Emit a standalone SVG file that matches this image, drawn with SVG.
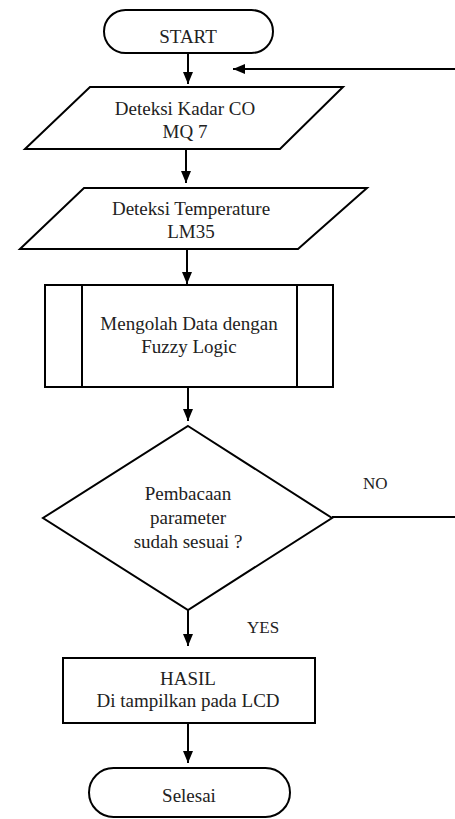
<svg xmlns="http://www.w3.org/2000/svg" width="455" height="819" viewBox="0 0 455 819">
<defs>
<marker id="ah" markerUnits="userSpaceOnUse" markerWidth="12" markerHeight="12" viewBox="0 0 12 12" refX="12" refY="6" orient="auto">
<path d="M0,1 L12,6 L0,11 Z" fill="#000"/>
</marker>
<style>
.s{fill:#fff;stroke:#000;stroke-width:2}
.c{fill:none;stroke:#000;stroke-width:2;marker-end:url(#ah)}
.p{fill:none;stroke:#000;stroke-width:2}
</style>
</defs>
<rect width="455" height="819" fill="#fff"/>
<g font-family="'Liberation Serif', 'Times New Roman', 'DejaVu Serif', serif" font-size="19" fill="#222" text-anchor="middle">
<g id="start">
<rect class="s" x="104" y="10" width="169" height="43" rx="21.5"/>
<text x="188" y="43">START</text>
</g>
<g id="detect-co">
<polygon class="s" points="90,87 343,87 280,149 25,149"/>
<text x="185" y="115">Deteksi Kadar CO</text>
<text x="185" y="138">MQ 7</text>
</g>
<g id="detect-temp">
<polygon class="s" points="84,188 367,188 298,249 20,249"/>
<text x="191" y="215">Deteksi Temperature</text>
<text x="191" y="238">LM35</text>
</g>
<g id="fuzzy">
<rect class="s" x="45" y="285" width="288" height="102"/>
<line class="p" x1="82" y1="285" x2="82" y2="387"/>
<line class="p" x1="297" y1="285" x2="297" y2="387"/>
<text x="189" y="330">Mengolah Data dengan</text>
<text x="189" y="353">Fuzzy Logic</text>
</g>
<g id="decision">
<polygon class="s" points="188,426 332,518 188,610 43,518"/>
<text x="188" y="500">Pembacaan</text>
<text x="188" y="524">parameter</text>
<text x="188" y="548">sudah sesuai ?</text>
</g>
<g id="result">
<rect class="s" x="63" y="658" width="252" height="65"/>
<text x="188" y="685">HASIL</text>
<text x="188" y="707">Di tampilkan pada LCD</text>
</g>
<g id="end">
<rect class="s" x="89" y="768" width="201" height="49" rx="24.5"/>
<text x="189" y="802">Selesai</text>
</g>
</g>
<g id="connectors">
<line class="c" x1="188" y1="53" x2="188" y2="84"/>
<line class="c" x1="186" y1="149" x2="186" y2="183"/>
<line class="c" x1="187" y1="249" x2="187" y2="284"/>
<line class="c" x1="188" y1="387" x2="188" y2="421"/>
<line class="c" x1="188" y1="610" x2="188" y2="646"/>
<line class="c" x1="188" y1="723" x2="188" y2="763"/>
<line class="p" x1="332" y1="517" x2="455" y2="517"/>
<line class="c" x1="455" y1="69" x2="233" y2="69"/>
<text x="363" y="489" font-family="'Liberation Serif', 'Times New Roman', 'DejaVu Serif', serif" font-size="17" fill="#222">NO</text>
<text x="247" y="633" font-family="'Liberation Serif', 'Times New Roman', 'DejaVu Serif', serif" font-size="17" fill="#222">YES</text>
</g>
</svg>
